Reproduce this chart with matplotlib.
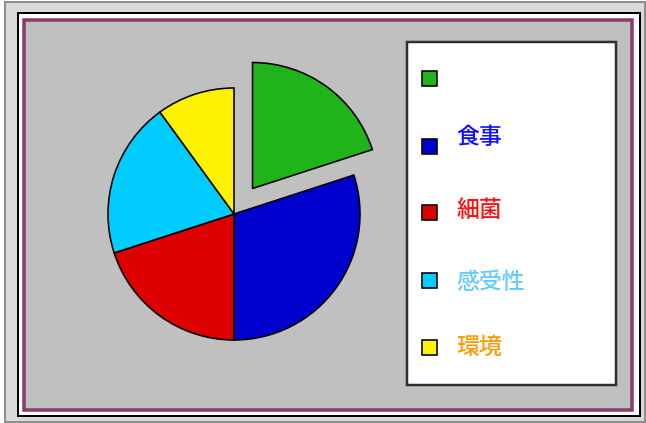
import matplotlib
matplotlib.use("Agg")
import matplotlib.pyplot as plt
from matplotlib.patches import Rectangle

plt.rcParams['font.family'] = ['Noto Sans CJK JP', 'DejaVu Sans']

# ---- data ----
categories = ["", "食事", "細菌", "感受性", "環境"]
values = [20, 30, 20, 20, 10]
explode = [0.25, 0, 0, 0, 0]
slice_colors = ["#1fb51a", "#0000cc", "#dc0000", "#00ccff", "#fff200"]
label_colors = ["#000000", "#1010ff", "#ff1010", "#66ccff", "#ff9a00"]

W, H = 646, 423
PX = 72.0 / 100.0  # points per pixel at dpi 100

fig = plt.figure(figsize=(W / 100, H / 100), dpi=100)
fig.patch.set_facecolor("white")
ax = fig.add_axes([0, 0, 1, 1])


def rect(x0, y0, x1, y1, **kw):
    """Rectangle given in pixel coords with y measured from top."""
    return Rectangle((x0, H - y1), x1 - x0, y1 - y0, **kw)


# ---- frame ----
ax.add_patch(rect(5, 2, 645, 422, facecolor="#d9d9d9", edgecolor="#8e8e8e", lw=2 * PX, zorder=0))
ax.add_patch(rect(17.5, 12.5, 639.5, 416, facecolor="white", edgecolor="#000000", lw=2 * PX, zorder=0.1))
ax.add_patch(rect(23.5, 20, 631.5, 409.5, facecolor="#c0c0c0", edgecolor="#8b3a6e", lw=3.5 * PX, zorder=0.2))

# ---- pie ----
cx, cy, r = 234, H - 214, 126
ax.pie(values, explode=[e * r for e in explode], colors=slice_colors, startangle=90,
       counterclock=False, center=(cx, cy), radius=r, frame=True,
       wedgeprops=dict(edgecolor="black", linewidth=1.6 * PX))

# ---- legend ----
ax.add_patch(rect(406.5, 41.5, 616, 385, facecolor="white", edgecolor="#303030", lw=2.5 * PX, zorder=3))
marker_y = [78, 146, 212, 280, 347]
text_y = [78, 137, 210, 282, 347]
for cat, col, lcol, my, ty in zip(categories, slice_colors, label_colors, marker_y, text_y):
    ax.add_patch(rect(422, my - 7.5, 437, my + 7.5, facecolor=col, edgecolor="black",
                      lw=1.6 * PX, zorder=4))
    if cat:
        ax.text(456, H - ty, cat, color=lcol, fontsize=16.5, va="center", ha="left",
                fontweight="medium", zorder=5)

ax.set_xlim(0, W)
ax.set_ylim(0, H)
ax.set_aspect("auto")
ax.axis("off")

fig.savefig("out.png", dpi=100)
